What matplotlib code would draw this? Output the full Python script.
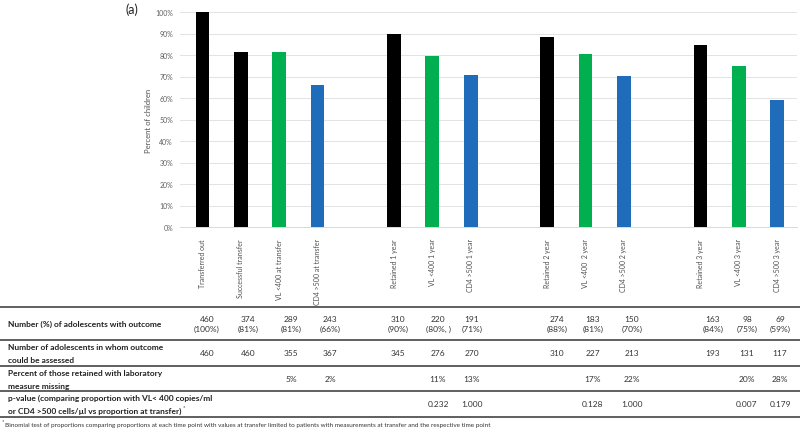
import matplotlib.pyplot as plt
import numpy as np

# bar data (percent of children)
categories = ['Transferred out', 'Successful transfer', 'VL <400 at transfer', 'CD4 >500 at transfer',
              'Retained 1 year', 'VL <400 1 year', 'CD4 >500 1 year',
              'Retained 2 year', 'VL <400  2 year', 'CD4 >500 2 year',
              'Retained 3 year', 'VL <400 3 year', 'CD4 >500 3 year']
group_sizes = [4, 3, 3, 3]
percent = [100, 81.3, 81.4, 66.2, 89.9, 79.7, 70.7, 88.4, 80.6, 70.4, 84.5, 74.8, 59.0]
kind = ['all', 'all', 'vl', 'cd4', 'all', 'vl', 'cd4', 'all', 'vl', 'cd4', 'all', 'vl', 'cd4']

# table data (each row label split into its lines)
row_labels = [['Number (%) of adolescents with outcome'],
              ['Number of adolescents in whom outcome', 'could be assessed'],
              ['Percent of those retained with laboratory', 'measure missing'],
              ['p-value (comparing proportion with VL< 400 copies/ml',
               'or CD4 >500 cells/\u00b5l vs proportion at transfer)']]
n_outcome = ['460\n(100%)', '374\n(81%)', '289\n(81%)', '243\n(66%)', '310\n(90%)', '220\n(80%, )', '191\n(71%)',
             '274\n(88%)', '183\n(81%)', '150\n(70%)', '163\n(84%)', '98\n(75%)', '69\n(59%)']
n_assessed = ['460', '460', '355', '367', '345', '276', '270', '310', '227', '213', '193', '131', '117']
pct_missing = ['', '', '5%', '2%', '', '11%', '13%', '', '17%', '22%', '', '20%', '28%']
p_values = ['', '', '', '', '', '0.232', '1.000', '', '0.128', '1.000', '', '0.007', '0.179']
footnote = ('Binomial test of proportions comparing proportions at each time point with values at transfer '
            'limited to patients with measurements at transfer and the respective time point')

colors = {'all': '#000000', 'vl': '#00B050', 'cd4': '#1F6DBA'}

plt.rcParams['font.family'] = ['Lato', 'DejaVu Sans']

W, H = 800, 431
fig = plt.figure(figsize=(W / 100, H / 100), dpi=100)

def fx(px):
    return px / W

def fy(py):
    return 1 - py / H

# bar positions: one empty slot between groups
xpos = []
start = 0
for g in group_sizes:
    xpos += list(range(start, start + g))
    start += g + 1

ax = fig.add_axes([fx(180), fy(228), fx(797) - fx(180), fy(13) - fy(228)])
ax.bar(xpos, percent, width=0.36, color=[colors[k] for k in kind], zorder=3)
ax.set_xlim(-0.59, 15.52)
ax.set_ylim(0, 100)
ax.set_yticks(np.arange(0, 101, 10))
ax.set_yticklabels([f'{v}%' for v in range(0, 101, 10)], fontsize=5, color='#606060')
ax.set_xticks(xpos)
ax.set_xticklabels(categories, rotation=90, fontsize=5, color='#505050', va='top', ha='center')
ax.tick_params(axis='x', length=0, pad=8)
ax.tick_params(axis='y', length=0, pad=5)
ax.grid(axis='y', color='#e3e3e3', linewidth=0.7, zorder=0)
for s in ['top', 'right', 'left']:
    ax.spines[s].set_visible(False)
ax.spines['bottom'].set_color('#d9d9d9')
ax.spines['bottom'].set_linewidth(0.7)
ax.set_ylabel('Percent of children', fontsize=5.5, color='#505050', labelpad=2)

fig.text(fx(125), fy(10), '(a)', fontsize=9, va='center', ha='left', color='#222222')

# table below
for py in [308, 341, 367, 392, 418]:
    fig.add_artist(plt.Line2D([0, 1], [fy(py), fy(py)], color='#444444', linewidth=1.2))

col_x = [207, 248, 291, 330, 398, 438, 472, 557, 593, 632, 713, 747, 780]
row_y = [324.5, 354, 380, 405]
rows = [n_outcome, n_assessed, pct_missing, p_values]

for lines, ry in zip(row_labels, row_y):
    n = len(lines)
    for i, line in enumerate(lines):
        ly = ry + (i - (n - 1) / 2) * 12.5
        fig.text(fx(8), fy(ly), line, fontsize=6, fontweight='bold', color='#222222',
                 ha='left', va='center')
fig.text(fx(182.5), fy(408), '*', fontsize=4, color='#222222', ha='left', va='center')

for vals, ry in zip(rows, row_y):
    for x, v in zip(col_x, vals):
        if v:
            fig.text(fx(x), fy(ry), v, fontsize=6, color='#333333', ha='center', va='center',
                     linespacing=1.6)

fig.text(fx(2), fy(422), '*', fontsize=4, color='#333333', ha='left', va='center')
fig.text(fx(5), fy(425.5), footnote, fontsize=4.6, color='#333333', ha='left', va='center')

fig.savefig('out.png', dpi=100)
